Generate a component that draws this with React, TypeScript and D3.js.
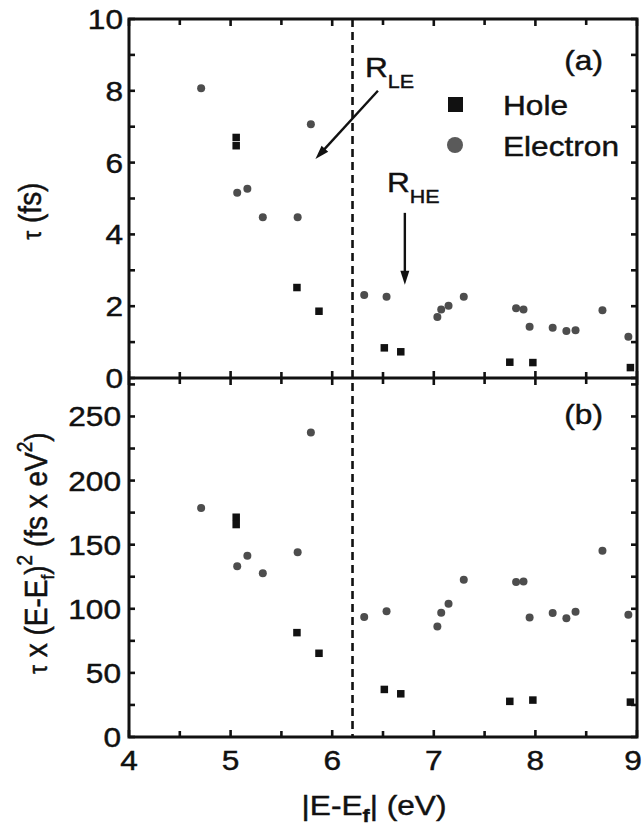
import React from "react";
import * as d3 from "d3";

// ---------- data ----------
const electronE = [4.71, 5.065, 5.165, 5.317, 5.66, 5.79, 6.315, 6.535, 7.035, 7.073, 7.145, 7.295, 7.81, 7.883, 7.943, 8.17, 8.305, 8.395, 8.66, 8.915];
const electronTau = [8.07, 5.16, 5.27, 4.48, 4.48, 7.07, 2.31, 2.26, 1.7, 1.91, 2.01, 2.26, 1.94, 1.91, 1.43, 1.4, 1.31, 1.33, 1.89, 1.15];
const electronProd = [178.6, 133.2, 141.3, 127.8, 144.1, 237.5, 93.6, 98.0, 86.1, 97.0, 104.0, 122.6, 120.8, 121.3, 93.3, 96.7, 92.6, 97.7, 145.2, 95.4];

const holeE = [5.055, 5.055, 5.653, 5.87, 6.513, 6.675, 7.748, 7.975, 8.935];
const holeTau = [6.7, 6.47, 2.52, 1.86, 0.84, 0.73, 0.44, 0.43, 0.29];
const holeProd = [171.4, 165.7, 81.4, 65.3, 37.1, 33.7, 27.8, 28.8, 27.2];

const xTickLabels = [4, 5, 6, 7, 8, 9];
const yTickLabelsA = [0, 2, 4, 6, 8, 10];
const yTickLabelsB = [0, 50, 100, 150, 200, 250];
const legendLabels = ["Hole", "Electron"];
const dividerE = 6.2;
// annotation arrows: [x1, y1, x2, y2] in panel (a) data units
const arrowLE = [6.45, 8.0, 5.835, 6.1];
const arrowHE = [6.715, 4.6, 6.715, 2.6];

// ---------- layout ----------
const W = 643;
const H = 833;
const L = 129;
const R = 637;
const TOP = 19;
const MID = 378;
const BOT = 737;
const SX = 1.13;
const FONT = "'Liberation Sans', Arial, Helvetica, sans-serif";
const FS = 28;

const x = d3.scaleLinear().domain([4, 9]).range([L, R]);
const yA = d3.scaleLinear().domain([0, 10]).range([MID, TOP]);
const yB = d3.scaleLinear().domain([0, 280]).range([BOT, MID]);

function T({ x, y, anchor = "start", size = FS, children, rotate = false }: any) {
  const tr = rotate
    ? `translate(${x},${y}) scale(${SX},1) rotate(-90)`
    : `translate(${x},${y}) scale(${SX},1)`;
  return (
    <text transform={tr} textAnchor={anchor} fontFamily={FONT} fontSize={size} fill="#111" stroke="#111" strokeWidth={0.45}>
      {children}
    </text>
  );
}

function Arrow({ x1, y1, x2, y2 }: any) {
  const dx = x2 - x1;
  const dy = y2 - y1;
  const len = Math.sqrt(dx * dx + dy * dy);
  const ux = dx / len;
  const uy = dy / len;
  const hl = 14;
  const hw = 4.5;
  const bx = x2 - ux * hl;
  const by = y2 - uy * hl;
  const p = `M${x2},${y2} L${bx - uy * hw},${by + ux * hw} L${bx},${by} L${bx + uy * hw},${by - ux * hw} Z`;
  return (
    <g>
      <line x1={x1} y1={y1} x2={bx + ux * 3} y2={by + uy * 3} stroke="#111" strokeWidth={2.4} />
      <path d={p} fill="#111" />
    </g>
  );
}

export default function App() {
  const halfTicks = d3.range(4, 9.001, 0.5);
  const ticksA = d3.range(0, 10.001, 1);
  const ticksB = d3.range(0, 280, 25);
  const sq = 7.5;
  const r = 4;
  const frameW = 3;
  const tickCol = "#111";

  return (
    <svg width={W} height={H} style={{ position: "absolute", left: 0, top: 0, background: "#fff" }}>
      <defs>
        <clipPath id="clipA">
          <rect x={L} y={TOP} width={R - L} height={MID - TOP} />
        </clipPath>
        <clipPath id="clipB">
          <rect x={L} y={MID} width={R - L} height={BOT - MID} />
        </clipPath>
      </defs>

      {/* divider */}
      <line x1={x(dividerE)} x2={x(dividerE)} y1={TOP} y2={BOT} stroke="#111" strokeWidth={2.6} strokeDasharray="8,5" />

      {/* panel a markers */}
      <g clipPath="url(#clipA)">
        {holeE.map((e, i) => (
          <rect key={"ha" + i} x={x(e) - sq / 2} y={yA(holeTau[i]) - sq / 2} width={sq} height={sq} fill="#111" />
        ))}
        {electronE.map((e, i) => (
          <circle key={"ea" + i} cx={x(e)} cy={yA(electronTau[i])} r={r} fill="#4d4d4d" />
        ))}
      </g>
      {/* panel b markers */}
      <g clipPath="url(#clipB)">
        {holeE.map((e, i) => (
          <rect key={"hb" + i} x={x(e) - sq / 2} y={yB(holeProd[i]) - sq / 2} width={sq} height={sq} fill="#111" />
        ))}
        {electronE.map((e, i) => (
          <circle key={"eb" + i} cx={x(e)} cy={yB(electronProd[i])} r={r} fill="#4d4d4d" />
        ))}
      </g>

      {/* ticks */}
      <g stroke={tickCol} strokeWidth={2.6}>
        {halfTicks.map((v, i) => {
          const len = Number.isInteger(v) ? 7 : 6;
          return (
            <g key={"xt" + i}>
              <line x1={x(v)} x2={x(v)} y1={TOP} y2={TOP + len} />
              <line x1={x(v)} x2={x(v)} y1={MID - len} y2={MID + len} />
              <line x1={x(v)} x2={x(v)} y1={BOT} y2={BOT - len} />
            </g>
          );
        })}
        {ticksA.map((v, i) => (
          <g key={"ya" + i}>
            <line x1={L} x2={L + 6} y1={yA(v)} y2={yA(v)} />
            <line x1={R} x2={R - 6} y1={yA(v)} y2={yA(v)} />
          </g>
        ))}
        {ticksB.map((v, i) => (
          <g key={"yb" + i}>
            <line x1={L} x2={L + 6} y1={yB(v)} y2={yB(v)} />
            <line x1={R} x2={R - 6} y1={yB(v)} y2={yB(v)} />
          </g>
        ))}
      </g>

      {/* frames */}
      <rect x={L} y={TOP} width={R - L} height={BOT - TOP} fill="none" stroke="#111" strokeWidth={frameW} />
      <line x1={L} x2={R} y1={MID} y2={MID} stroke="#111" strokeWidth={frameW} />

      {/* tick labels */}
      {yTickLabelsA.map((v) => (
        <T key={"la" + v} x={123} y={yA(v) + 10} anchor="end">{v}</T>
      ))}
      {yTickLabelsB.map((v) => (
        <T key={"lb" + v} x={121} y={yB(v) + 10} anchor="end">{v}</T>
      ))}
      {xTickLabels.map((v) => (
        <T key={"lx" + v} x={Math.min(x(v), 633)} y={770} anchor="middle">{v}</T>
      ))}

      {/* axis titles */}
      <T x={374} y={815} anchor="middle">
        <tspan>|E-E</tspan>
        <tspan fontSize={19} dy={7} fontWeight="bold">f</tspan>
        <tspan dy={-7}>| (eV)</tspan>
      </T>
      <T x={41} y={211} anchor="middle" rotate>
        <tspan fontSize={22}>τ</tspan>
        <tspan> (fs)</tspan>
      </T>
      <T x={47} y={553} anchor="middle" rotate>
        <tspan fontSize={22}>τ</tspan>
        <tspan> x (E-E</tspan>
        <tspan fontSize={17} dy={6}>f</tspan>
        <tspan dy={-6}>)</tspan>
        <tspan fontSize={19} dy={-13}>2</tspan>
        <tspan dy={13}> (fs x eV</tspan>
        <tspan fontSize={19} dy={-13}>2</tspan>
        <tspan dy={13}>)</tspan>
      </T>

      {/* panel labels */}
      <T x={603} y={70} anchor="end">(a)</T>
      <T x={603} y={424} anchor="end">(b)</T>

      {/* annotations */}
      <T x={365} y={77}>
        <tspan>R</tspan>
        <tspan fontSize={19} dy={11}>LE</tspan>
      </T>
      <Arrow x1={x(arrowLE[0])} y1={yA(arrowLE[1])} x2={x(arrowLE[2])} y2={yA(arrowLE[3])} />
      <T x={387} y={192}>
        <tspan>R</tspan>
        <tspan fontSize={19} dy={11}>HE</tspan>
      </T>
      <Arrow x1={x(arrowHE[0])} y1={yA(arrowHE[1])} x2={x(arrowHE[2])} y2={yA(arrowHE[3])} />

      {/* legend */}
      <rect x={448} y={97} width={15} height={15} fill="#111" />
      <circle cx={455} cy={145} r={8} fill="#5a5a5a" />
      <T x={503} y={115}>{legendLabels[0]}</T>
      <T x={503} y={156}>{legendLabels[1]}</T>
    </svg>
  );
}
